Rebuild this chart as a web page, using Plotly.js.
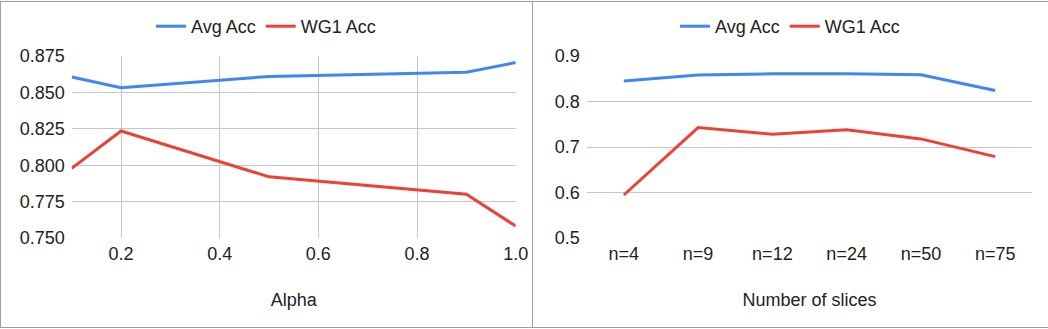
<!DOCTYPE html>
<html>
<head>
<meta charset="utf-8">
<script src="https://cdn.plot.ly/plotly-3.0.1.min.js"></script>
<style>html,body{margin:0;padding:0;background:#fff;}#chart{width:1048px;height:329px;}</style>
</head>
<body>
<div id="chart"></div>
<script>
// ---- data ----
const seriesNames = ['Avg Acc', 'WG1 Acc'];
const alpha = [0.1, 0.2, 0.5, 0.9, 1.0];
const alphaAvgAcc = [0.8606, 0.8532, 0.861, 0.8638, 0.8705];
const alphaWg1Acc = [0.7978, 0.8235, 0.792, 0.780, 0.7582];
const alphaTicks = [0.2, 0.4, 0.6, 0.8, 1.0];
const alphaYTicks = [0.750, 0.775, 0.800, 0.825, 0.850, 0.875];

const slices = ['n=4', 'n=9', 'n=12', 'n=24', 'n=50', 'n=75'];
const slicesAvgAcc = [0.845, 0.858, 0.861, 0.861, 0.859, 0.824];
const slicesWg1Acc = [0.5945, 0.7427, 0.7282, 0.7377, 0.7178, 0.6789];
const slicesYTicks = [0.5, 0.6, 0.7, 0.8, 0.9];

const xTitles = ['Alpha', 'Number of slices'];

// ---- style ----
const BLUE = '#4285F4', RED = '#EA4335';
const FONT = 'Arial, "Liberation Sans", Helvetica, sans-serif';
const FS = 18;
const GRID = '#c6c6c6';
const W = 1048, H = 329;

const traces = [
  {x: alpha, y: alphaAvgAcc, name: seriesNames[0], type: 'scatter', mode: 'lines',
   line: {color: BLUE, width: 3}, xaxis: 'x', yaxis: 'y', legend: 'legend'},
  {x: alpha, y: alphaWg1Acc, name: seriesNames[1], type: 'scatter', mode: 'lines',
   line: {color: RED, width: 3}, xaxis: 'x', yaxis: 'y', legend: 'legend'},
  {x: slices, y: slicesAvgAcc, name: seriesNames[0], type: 'scatter', mode: 'lines',
   line: {color: BLUE, width: 3}, xaxis: 'x2', yaxis: 'y2', legend: 'legend2'},
  {x: slices, y: slicesWg1Acc, name: seriesNames[1], type: 'scatter', mode: 'lines',
   line: {color: RED, width: 3}, xaxis: 'x2', yaxis: 'y2', legend: 'legend2'}
];

const yDom = [1 - 238 / H, 1 - 56 / H];
const tickFont = {family: FONT, size: FS, color: '#222'};

const legendCommon = {
  orientation: 'h', xanchor: 'center', yanchor: 'middle', y: 1 - 26.5 / H,
  font: {family: FONT, size: FS, color: '#222'}, bgcolor: 'rgba(0,0,0,0)',
  itemwidth: 30, tracegroupgap: 0
};

const layout = {
  width: W, height: H,
  margin: {l: 0, r: 0, t: 0, b: 0},
  paper_bgcolor: '#fff', plot_bgcolor: '#fff',
  font: {family: FONT, size: FS, color: '#222'},
  showlegend: true,
  legend: Object.assign({x: 266 / W}, legendCommon),
  legend2: Object.assign({x: 790 / W}, legendCommon),
  xaxis: {
    domain: [71.7 / W, 515.7 / W], anchor: 'y',
    range: [0.1, 1.0], tickvals: alphaTicks, ticktext: alphaTicks.map(v => v.toFixed(1)),
    showgrid: true, gridcolor: GRID, gridwidth: 1, zeroline: false, showline: false,
    ticks: '', tickfont: tickFont, ticklabelstandoff: 3,
    title: {text: xTitles[0], font: {family: FONT, size: FS, color: '#222'}, standoff: 30}
  },
  yaxis: {
    domain: yDom, anchor: 'x',
    range: [0.75, 0.875], tickvals: alphaYTicks, ticktext: alphaYTicks.map(v => v.toFixed(3)),
    showgrid: true, gridcolor: GRID, gridwidth: 1, zeroline: false, showline: false,
    ticks: '', tickfont: tickFont, ticklabelstandoff: 6
  },
  xaxis2: {
    domain: [586.7 / W, 1032.3 / W], anchor: 'y2', type: 'category',
    range: [-0.5, 5.5], showgrid: false, zeroline: false, showline: false,
    ticks: '', tickfont: tickFont, ticklabelstandoff: 3,
    title: {text: xTitles[1], font: {family: FONT, size: FS, color: '#222'}, standoff: 30}
  },
  yaxis2: {
    domain: yDom, anchor: 'x2',
    range: [0.5, 0.9], tickvals: slicesYTicks, ticktext: slicesYTicks.map(v => v.toFixed(1)),
    showgrid: true, gridcolor: GRID, gridwidth: 1, zeroline: false, showline: false,
    ticks: '', tickfont: tickFont, ticklabelstandoff: 6
  },
  shapes: [
    // chart frames
    {type: 'line', xref: 'paper', yref: 'paper', x0: 0, x1: 1, y0: 1 - 1.5 / H, y1: 1 - 1.5 / H, line: {color: '#9e9e9e', width: 1}},
    {type: 'line', xref: 'paper', yref: 'paper', x0: 0, x1: 1, y0: 1 - 327.5 / H, y1: 1 - 327.5 / H, line: {color: '#9e9e9e', width: 1}},
    {type: 'line', xref: 'paper', yref: 'paper', x0: 0.5 / W, x1: 0.5 / W, y0: 1 - 327.5 / H, y1: 1 - 1.5 / H, line: {color: '#9e9e9e', width: 1}},
    {type: 'line', xref: 'paper', yref: 'paper', x0: 532.5 / W, x1: 532.5 / W, y0: 1 - 327.5 / H, y1: 1 - 1.5 / H, line: {color: '#9e9e9e', width: 1}}
  ]
};

Plotly.newPlot('chart', traces, layout, {displayModeBar: false, staticPlot: true});
</script>
</body>
</html>
